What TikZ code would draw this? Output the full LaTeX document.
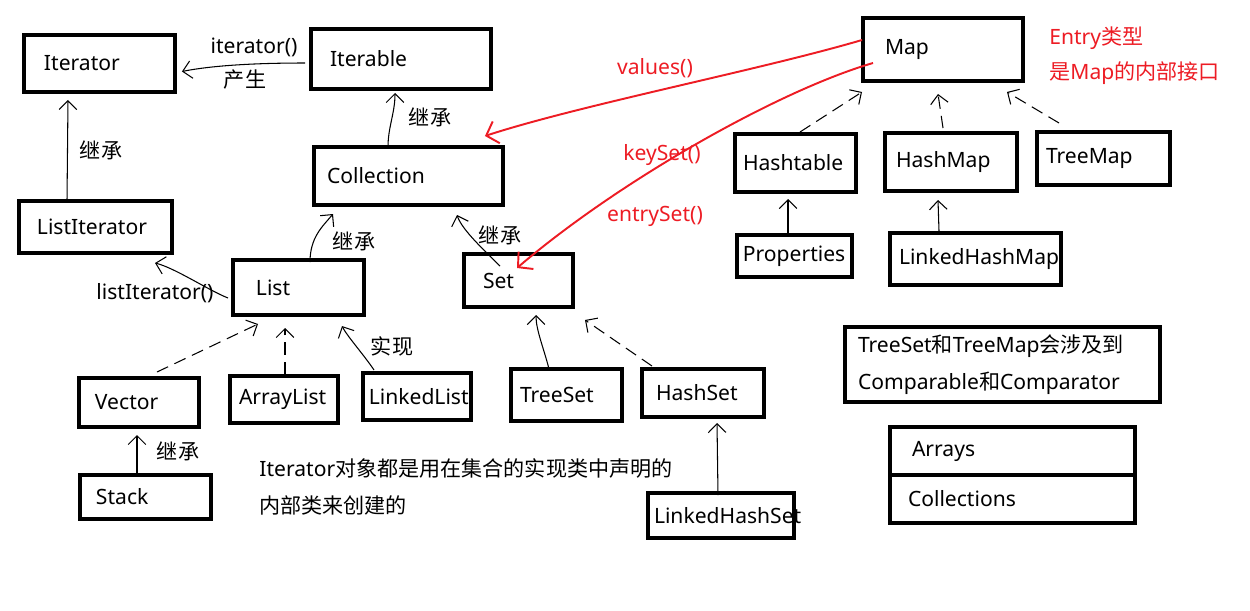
\documentclass[tikz,border=0pt]{standalone}
\usepackage{fontspec}
\setmainfont{Noto Sans}
\newfontfamily\cjk{Noto Sans CJK SC}
\usetikzlibrary{arrows.meta, calc}
\definecolor{paintred}{RGB}{237,28,36}
\tikzset{
    cls/.style = {draw, rectangle, line width=2.5pt, outer sep=0pt, anchor=north west, align=left, inner ysep=0pt},
    tag/.style = {inner sep=0pt},
    inh/.style = {-{Straight Barb[length=5pt, width=10pt]}, line width=0.6pt},
    impl/.style = {inh, dash pattern=on 7pt off 4pt},
    getter/.style = {-{Straight Barb[length=6pt, width=13pt]}, line width=1.1pt, draw=paintred}
}

\begin{document}
\begin{tikzpicture}[x=0.02cm, y=-0.02cm, font=\fontsize{12}{14}\selectfont]
    \useasboundingbox (0,0) rectangle (1250,610);
    % Clases e interfaces
    \node [cls, minimum width=3.02cm, minimum height=1.14cm, text width=2.22cm] (iterator) at (24,35) {Iterator};
    \node [cls, minimum width=3.6cm, minimum height=1.2cm, text width=2.84cm] (iterable) at (311,29) {Iterable};
    \node [cls, minimum width=3.78cm, minimum height=1.16cm, text width=3.26cm] (collection) at (314,147) {Collection};
    \node [cls, minimum width=3.06cm, minimum height=1.04cm, text width=2.34cm] (listiter) at (19,201) {ListIterator};
    \node [cls, minimum width=2.62cm, minimum height=1.1cm, text width=1.7cm] (list) at (233,260) {List};
    \node [cls, minimum width=2.18cm, minimum height=1.06cm, text width=1.42cm] (set) at (464,254) {Set};
    \node [cls, minimum width=3.2cm, minimum height=1.26cm, text width=2.32cm] (map) at (863,18) {Map};
    \node [cls, minimum width=2.42cm, minimum height=1.16cm, text width=2.1cm] (hashtable) at (735,134) {Hashtable};
    \node [cls, minimum width=2.64cm, minimum height=1.16cm, text width=2.2cm] (hashmap) at (885,133) {HashMap};
    \node [cls, minimum width=2.66cm, minimum height=1.06cm, text width=2.3cm] (treemap) at (1037,132) {TreeMap};
    \node [cls, minimum width=2.26cm, minimum height=0.84cm, text width=2.06cm] (properties) at (737,235) {Properties};
    \node [cls, minimum width=3.42cm, minimum height=1.04cm, text width=3.06cm] (linkedhashmap) at (890,233) {LinkedHashMap};
    \node [cls, minimum width=2.4cm, minimum height=0.98cm, text width=1.76cm] (vector) at (79,378) {Vector};
    \node [cls, minimum width=2.16cm, minimum height=0.94cm, text width=1.8cm] (arraylist) at (230,376) {ArrayList};
    \node [cls, minimum width=2.08cm, minimum height=0.94cm, text width=1.92cm] (linkedlist) at (363,373) {LinkedList};
    \node [cls, minimum width=2.62cm, minimum height=0.88cm, text width=1.98cm] (stack) at (80,475) {Stack};
    \node [cls, minimum width=2.22cm, minimum height=1.04cm, text width=1.86cm] (treeset) at (511,369) {TreeSet};
    \node [cls, minimum width=2.44cm, minimum height=0.96cm, text width=1.88cm] (hashset) at (642,369) {HashSet};
    \node [cls, minimum width=2.92cm, minimum height=0.9cm, text width=2.68cm] (linkedhashset) at (648,493) {LinkedHashSet};
    \node [cls, minimum width=6.3cm, minimum height=1.5cm, text width=5.78cm, font=\fontsize{12}{21}\selectfont] (cmpnote) at (845,327) {TreeSet{\cjk 和}TreeMap{\cjk 会涉及到}\\Comparable{\cjk 和}Comparator};
    \node [cls, minimum width=4.9cm, minimum height=0.96cm, text width=4.02cm] (arrays) at (890,427) {Arrays};
    \node [cls, minimum width=4.9cm, minimum height=0.96cm, text width=4.18cm] (collections) at (arrays.south west) {Collections};
    % Textos
    \node [tag] (lbliter) at (254,47) {iterator()};
    \node [tag] (lblmake) at (245,80) {\cjk 产生};
    \node [tag] (lblinh1) at (101,150) {\cjk 继承};
    \node [tag] (lblinh2) at (430,117) {\cjk 继承};
    \node [tag] (lblinh3) at (354,241) {\cjk 继承};
    \node [tag] (lblinh4) at (500,235) {\cjk 继承};
    \node [tag] (lblinh5) at (178,451) {\cjk 继承};
    \node [tag] (lblimpl) at (392,346) {\cjk 实现};
    \node [tag] (lbllistit) at (155,293) {listIterator()};
    \node [tag, text=paintred] (lblvalues) at (655,68) {values()};
    \node [tag, text=paintred] (lblkeys) at (662,155) {keySet()};
    \node [tag, text=paintred] (lblentry) at (655,216) {entrySet()};
    \node [tag, text=paintred, anchor=west, align=left, font=\fontsize{12}{20}\selectfont] (entrynote) at (1049,55.5) {Entry{\cjk 类型}\\{\cjk 是}Map{\cjk 的内部接口}};
    \node [tag, anchor=west, align=left, font=\fontsize{12}{21}\selectfont] (itnote) at (259,486.5) {Iterator{\cjk 对象都是用在集合的实现类中声明的}\\{\cjk 内部类来创建的}};
    % Flechas
    \draw [inh] ($(listiter.north west)+(48,0)$) -- ($(iterator.south west)+(44,8)$);
    \draw [inh] ($(iterable.west)+(-6,4)$) .. controls +(-50,0) and +(30,-6) .. ($(iterator.east)+(7,8)$);
    \draw [inh] ($(collection.north west)+(74,0)$) .. controls +(0,-20) and +(0,20) .. ($(iterable.south west)+(84,4)$);
    \draw [inh] ($(list.north west)+(77,2)$) .. controls +(0,-25) and +(-10,12) .. ($(collection.south west)+(19,9)$);
    \draw [inh] ($(set.north west)+(36,12)$) .. controls +(-15,-15) and +(5,15) .. ($(collection.south west)+(143,10)$);
    \draw [inh] ($(list.west)+(-5,10.5)$) .. controls +(-20,-8) and +(20,5) .. ($(listiter.south west)+(136,10)$);
    \draw [impl] ($(vector.north west)+(78,-6)$) -- ($(list.south west)+(25,9)$);
    \draw [impl] ($(arraylist.north west)+(55,-2)$) -- ($(list.south west)+(52,13)$);
    \draw [inh] ($(linkedlist.north west)+(11,-3)$) .. controls +(-10,-15) and +(5,10) .. ($(list.south west)+(109,11)$);
    \draw [inh] ($(stack.north west)+(57,-2)$) -- ($(vector.south west)+(58,8)$);
    \draw [inh] ($(treeset.north west)+(38,0)$) .. controls +(-5,-20) and +(0,15) .. ($(set.south west)+(72,8)$);
    \draw [impl] ($(hashset.north west)+(10,-3)$) -- ($(set.south west)+(121,13)$);
    \draw [inh] ($(linkedhashset.north west)+(70,2)$) -- ($(hashset.south west)+(75,6)$);
    \draw [impl] ($(hashtable.north west)+(65,-2)$) -- ($(map.south west)+(-1,11)$);
    \draw [impl] ($(hashmap.north west)+(58,-5)$) -- ($(map.south west)+(75,13)$);
    \draw [impl] ($(treemap.north west)+(22,-9)$) -- ($(map.south west)+(144,11)$);
    \draw [inh] ($(properties.north west)+(51,0)$) -- ($(hashtable.south west)+(53,7)$);
    \draw [inh] ($(linkedhashmap.north west)+(49,-2)$) -- ($(hashmap.south west)+(53,9)$);
    % Vistas del Map
    \draw [getter] ($(map.north west)+(-1,22)$) .. controls +(-102,30) and +(95,-31) .. ($(collection.north east)+(-18,-11)$);
    \draw [getter] ($(map.north west)+(10,45)$) .. controls +(-93,27) and +(103,-88) .. ($(set.north west)+(53,14)$);
\end{tikzpicture}
\end{document}
